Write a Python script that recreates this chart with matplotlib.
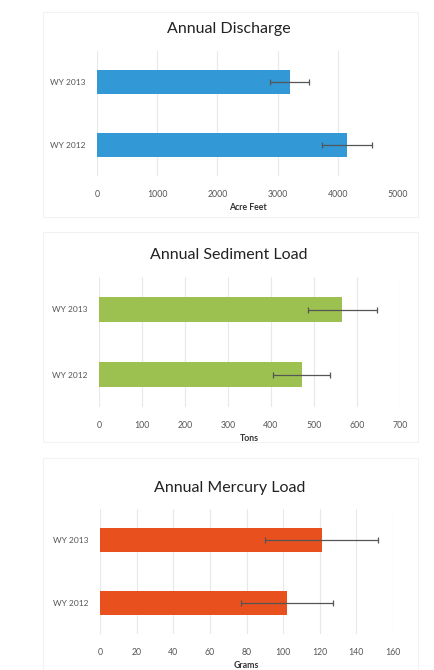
import matplotlib
matplotlib.use("Agg")
import matplotlib.pyplot as plt
from matplotlib.patches import Rectangle

categories = ["WY 2012", "WY 2013"]

discharge = [4150, 3200]
discharge_err = [420, 320]
discharge_ticks = [0, 1000, 2000, 3000, 4000, 5000]

sediment = [471, 566]
sediment_err = [66, 80]
sediment_ticks = [0, 100, 200, 300, 400, 500, 600, 700]

mercury = [102, 121]
mercury_err = [25, 31]
mercury_ticks = [0, 20, 40, 60, 80, 100, 120, 140, 160]

W, H = 435, 670
fig = plt.figure(figsize=(W / 100, H / 100), dpi=100)
fig.patch.set_facecolor("white")

plt.rcParams["font.family"] = ["Lato", "DejaVu Sans"]

panels = [
    dict(title="Annual Discharge", vals=discharge, err=discharge_err, ticks=discharge_ticks,
         xlabel="Acre Feet", color="#3399d6", x0=97, x1=398, ytop=51, ybot=176, ttl=29,
         frame=(43, 12, 375, 205)),
    dict(title="Annual Sediment Load", vals=sediment, err=sediment_err, ticks=sediment_ticks,
         xlabel="Tons", color="#9cc150", x0=99, x1=400, ytop=277, ybot=407, ttl=255,
         frame=(43, 232, 375, 210)),
    dict(title="Annual Mercury Load", vals=mercury, err=mercury_err, ticks=mercury_ticks,
         xlabel="Grams", color="#e8501e", x0=100, x1=393, ytop=509, ybot=634, ttl=488,
         frame=(43, 458, 375, 212)),
]

for p in panels:
    fx, fy, fw, fh = p["frame"]
    fig.patches.append(Rectangle((fx / W, 1 - (fy + fh) / H), fw / W, fh / H,
                                 transform=fig.transFigure, fill=False,
                                 edgecolor="#f2f2f2", linewidth=0.8, zorder=0))
    ax = fig.add_axes([p["x0"] / W, 1 - p["ybot"] / H,
                       (p["x1"] - p["x0"]) / W, (p["ybot"] - p["ytop"]) / H])
    ypos = list(range(len(categories)))
    ax.barh(ypos, p["vals"], height=0.39, color=p["color"], zorder=2)
    ax.errorbar(p["vals"], ypos, xerr=p["err"], fmt="none", ecolor="#555555",
                elinewidth=0.9, capsize=2, capthick=0.9, zorder=3)
    ax.set_xlim(p["ticks"][0], p["ticks"][-1])
    ax.set_ylim(-0.5, 1.5)
    ax.set_xticks(p["ticks"])
    ax.set_xticklabels([str(t) for t in p["ticks"]])
    ax.set_yticks(ypos)
    ax.set_yticklabels(categories)
    ax.tick_params(axis="x", length=0, pad=10, labelsize=6.3, labelcolor="#555555")
    ax.tick_params(axis="y", length=0, pad=8, labelsize=6, labelcolor="#555555")
    ax.grid(axis="x", color="#e8e8e8", linewidth=0.8, zorder=0)
    for s in ax.spines.values():
        s.set_visible(False)
    ax.set_xlabel(p["xlabel"], fontsize=6.3, fontweight="bold", color="#333333", labelpad=3)
    fig.text(0.527, 1 - p["ttl"] / H, p["title"], ha="center", va="center",
             fontsize=11.5, color="#222222")

fig.savefig("out.png", dpi=100, facecolor="white")
